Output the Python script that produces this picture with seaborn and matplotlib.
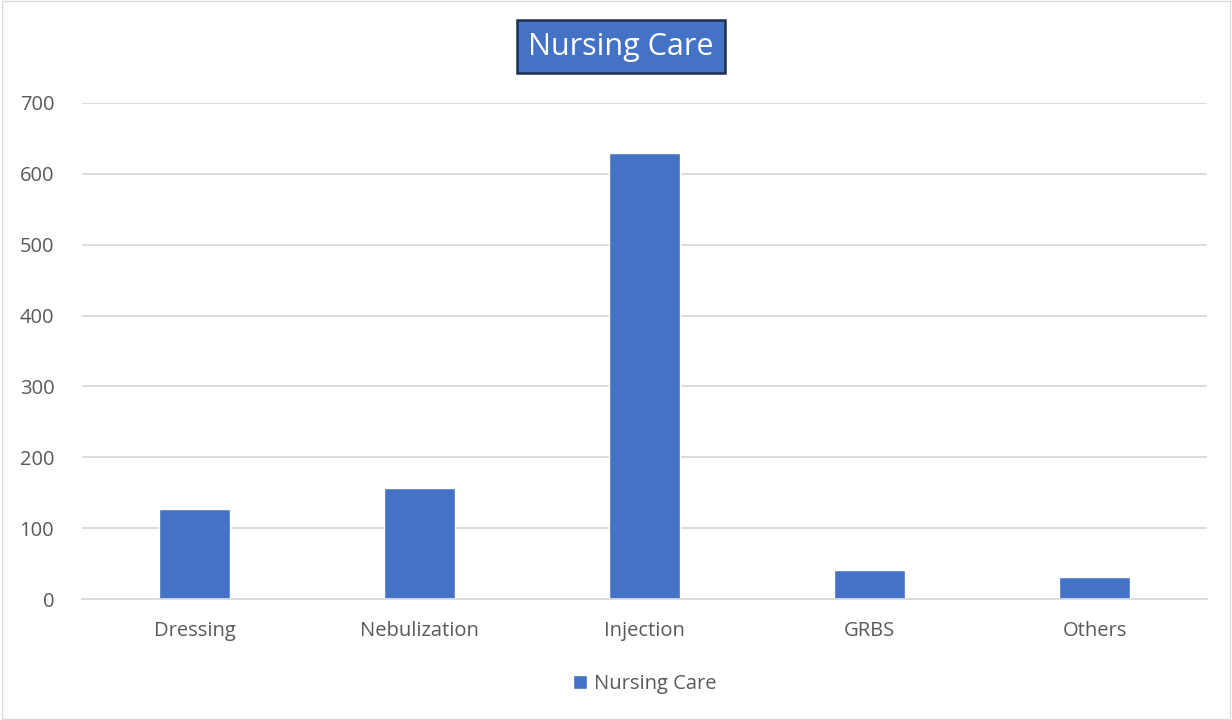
import matplotlib
matplotlib.use("Agg")
import matplotlib.pyplot as plt
import seaborn as sns
import pandas as pd
from matplotlib.patches import Rectangle

categories = ["Dressing", "Nebulization", "Injection", "GRBS", "Others"]
counts = [127, 156, 629, 41, 31]
series_name = "Nursing Care"
y_ticks = [0, 100, 200, 300, 400, 500, 600, 700]

BAR_COLOR = "#4472C4"
TEXT_COLOR = "#595959"
GRID_COLOR = "#D9D9D9"

sns.set_theme(style="white")
plt.rcParams["font.family"] = ["Open Sans", "DejaVu Sans"]

df = pd.DataFrame({"category": categories, "count": counts, "series": series_name})

fig = plt.figure(figsize=(12.32, 7.2), dpi=100)
ax = fig.add_axes([0.0666, 0.168, 0.9131, 0.689])

sns.barplot(data=df, x="category", y="count", hue="series", palette=[BAR_COLOR],
            width=0.315, ax=ax, legend=True, saturation=1)

ax.set_ylim(0, 700)
ax.set_yticks(y_ticks)
ax.set_xlim(-0.5, len(categories) - 0.5)
ax.yaxis.grid(True, color=GRID_COLOR, linewidth=1.3)
ax.set_axisbelow(True)
for s in ["top", "right", "left"]:
    ax.spines[s].set_visible(False)
ax.spines["bottom"].set_color(GRID_COLOR)
ax.spines["bottom"].set_linewidth(1.3)
ax.tick_params(axis="both", length=0, labelsize=14.5, colors=TEXT_COLOR)
ax.tick_params(axis="y", pad=20)
ax.tick_params(axis="x", pad=16)
ax.set_xlabel("")
ax.set_ylabel("")

# legend at bottom centre
leg = ax.legend(loc="center", bbox_to_anchor=(0.5, -0.172), frameon=False,
                fontsize=14.5, handlelength=0.7, handleheight=0.7, handletextpad=0.35)
for t in leg.get_texts():
    t.set_color(TEXT_COLOR)

# title in a filled box
fig.text(0.504, 0.935, "Nursing Care", ha="center", va="center", fontsize=22, color="white",
         bbox=dict(boxstyle="square,pad=0.38", facecolor=BAR_COLOR, edgecolor="#1F2D4F", linewidth=1.8))

# chart area border
fig.patches.append(Rectangle((0.002, 0.002), 0.996, 0.996, transform=fig.transFigure,
                             fill=False, edgecolor=GRID_COLOR, linewidth=1))

fig.savefig("out.png", dpi=100)
